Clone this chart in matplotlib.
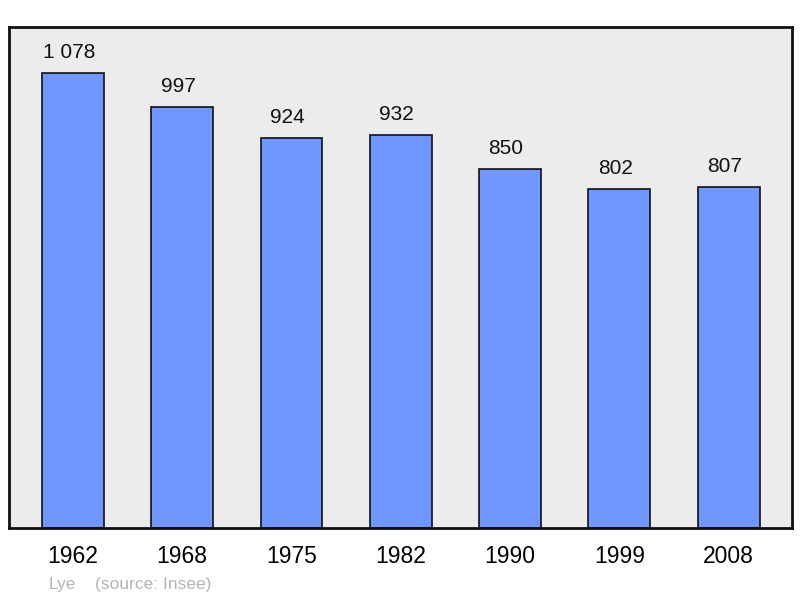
import matplotlib
matplotlib.use("Agg")
import matplotlib.pyplot as plt

years = ["1962", "1968", "1975", "1982", "1990", "1999", "2008"]
population = [1078, 997, 924, 932, 850, 802, 807]
value_labels = ["1 078", "997", "924", "932", "850", "802", "807"]
commune = "Lye"
source = "(source: Insee)"

plt.rcParams['font.family'] = ['Liberation Sans', 'DejaVu Sans']

fig = plt.figure(figsize=(8, 5.98), dpi=100)
ax = fig.add_axes([9/800, 1-528/598, (792-9)/800, (528-27)/598])
ax.set_facecolor('#ececec')
x = list(range(len(years)))
ax.bar(x, population, width=0.567, color='#7096ff', edgecolor='#111111', linewidth=1.2, zorder=2)
ax.set_xlim(-0.585, 6.58)
ax.set_ylim(0, 1187)
for xi, v, lab in zip(x, population, value_labels):
    ax.annotate(lab, (xi, v), xytext=(-3, 8), textcoords='offset points',
                ha='center', va='bottom', fontsize=15, color='#111111')
ax.set_xticks(x)
ax.set_xticklabels(years, fontsize=16.5)
ax.tick_params(axis='x', length=0, pad=12)
ax.set_yticks([])
for s in ax.spines.values():
    s.set_linewidth(2)
    s.set_color('#111111')
fig.text(49/800, 1-584/598, commune, fontsize=12.5, color='#b4b4b4', ha='left', va='center')
fig.text(95/800, 1-584/598, source, fontsize=12.5, color='#b4b4b4', ha='left', va='center')
fig.savefig('out.png', dpi=100)
